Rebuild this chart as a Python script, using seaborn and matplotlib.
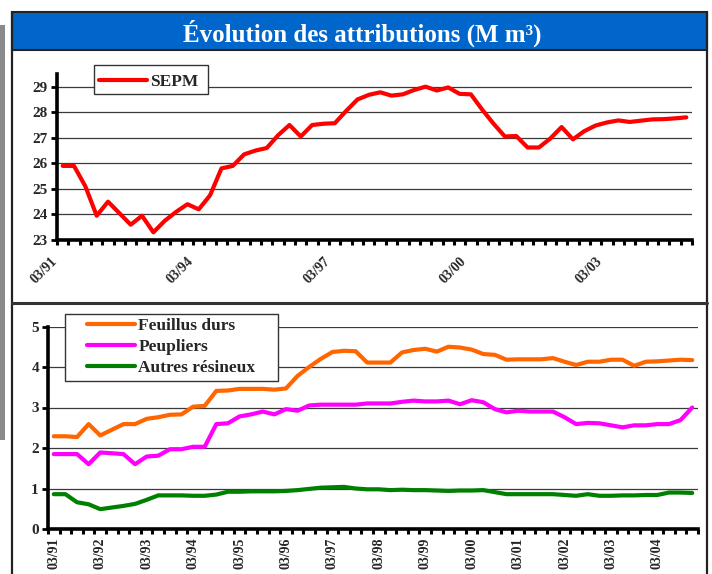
import numpy as np
import pandas as pd
import matplotlib
matplotlib.use("Agg")
import matplotlib.pyplot as plt
from matplotlib.patches import Rectangle
from matplotlib.lines import Line2D
from matplotlib.transforms import ScaledTranslation
import seaborn as sns

# quarterly data, 03/91 .. 12/04 (56 quarters)
sepm = [25.9, 25.9, 25.1, 23.95, 24.5, 24.05, 23.6, 23.95, 23.3, 23.75,
        24.1, 24.4, 24.2, 24.75, 25.8, 25.9, 26.35, 26.5, 26.6, 27.1,
        27.5, 27.05, 27.5, 27.55, 27.57, 28.05, 28.5, 28.68, 28.78, 28.65,
        28.7, 28.87, 29.0, 28.85, 28.97, 28.72, 28.7, 28.1, 27.55, 27.05,
        27.07, 26.62, 26.62, 26.97, 27.42, 26.94, 27.26, 27.48, 27.6, 27.68,
        27.62, 27.67, 27.72, 27.73, 27.76, 27.8]

feuillus = [2.29, 2.29, 2.27, 2.59, 2.31, 2.45, 2.59, 2.59, 2.72, 2.76,
            2.82, 2.83, 3.02, 3.04, 3.41, 3.42, 3.46, 3.46, 3.46, 3.44,
            3.47, 3.78, 4.0, 4.2, 4.37, 4.4, 4.39, 4.11, 4.11, 4.11,
            4.36, 4.42, 4.45, 4.38, 4.5, 4.48, 4.43, 4.32, 4.3, 4.18,
            4.19, 4.19, 4.19, 4.22, 4.13, 4.05, 4.13, 4.13, 4.18, 4.18,
            4.03, 4.13, 4.14, 4.16, 4.18, 4.17]

peupliers = [1.85, 1.85, 1.85, 1.6, 1.89, 1.87, 1.85, 1.6, 1.79, 1.81,
             1.97, 1.97, 2.03, 2.03, 2.59, 2.61, 2.78, 2.83, 2.9, 2.83,
             2.96, 2.92, 3.05, 3.07, 3.07, 3.07, 3.07, 3.1, 3.1, 3.1,
             3.14, 3.17, 3.15, 3.15, 3.17, 3.08, 3.18, 3.13, 2.96, 2.88,
             2.92, 2.9, 2.9, 2.9, 2.76, 2.59, 2.62, 2.61, 2.56, 2.51,
             2.56, 2.56, 2.59, 2.59, 2.69, 3.0]

autres = [0.86, 0.86, 0.66, 0.61, 0.49, 0.53, 0.57, 0.62, 0.72, 0.83,
          0.83, 0.83, 0.82, 0.82, 0.85, 0.92, 0.92, 0.93, 0.93, 0.93,
          0.94, 0.96, 0.99, 1.02, 1.03, 1.04, 1.0, 0.98, 0.98, 0.96,
          0.97, 0.96, 0.96, 0.95, 0.94, 0.95, 0.95, 0.96, 0.91, 0.86,
          0.86, 0.86, 0.86, 0.86, 0.84, 0.82, 0.86, 0.82, 0.82, 0.83,
          0.83, 0.84, 0.84, 0.9, 0.9, 0.89]

top_tick_pos = [0, 12, 24, 36, 48]
top_tick_labels = ["03/91", "03/94", "03/97", "03/00", "03/03"]
bot_tick_pos = [0, 4, 8, 12, 16, 20, 24, 28, 32, 36, 40, 44, 48, 52]
bot_tick_labels = ["03/91", "03/92", "03/93", "03/94", "03/95", "03/96", "03/97",
                   "03/98", "03/99", "03/00", "03/01", "03/02", "03/03", "03/04"]

df = pd.DataFrame({"q": np.arange(len(sepm)), "SEPM": sepm,
                   "Feuillus durs": feuillus, "Peupliers": peupliers,
                   "Autres résineux": autres})

sns.set_theme(style="white")
plt.rcParams["font.family"] = ["Liberation Serif", "DejaVu Serif"]
plt.rcParams["font.weight"] = "bold"

W, H = 712, 574
fig = plt.figure(figsize=(W / 100, H / 100), dpi=100)


def px_axes(x0, y0, x1, y1):
    return fig.add_axes([x0 / W, 1 - y1 / H, (x1 - x0) / W, (y1 - y0) / H])


def px(x, y):
    return (x / W, 1 - y / H)


# frame / decoration
fig.add_artist(Rectangle(px(0, 440), 5 / W, 415 / H, transform=fig.transFigure,
                         color="#8a8a8a", lw=0, zorder=0))
fig.add_artist(Rectangle(px(12, 50), 695 / W, 38 / H, transform=fig.transFigure,
                         facecolor="#0066CC", edgecolor="#222222", lw=1.5, zorder=0))
fig.add_artist(Line2D([12 / W, 12 / W], [0, 1 - 12 / H], transform=fig.transFigure,
                      color="#222222", lw=1.6))
fig.add_artist(Line2D([707 / W, 707 / W], [0, 1 - 12 / H], transform=fig.transFigure,
                      color="#222222", lw=1.6))
fig.add_artist(Line2D([12 / W, 707 / W], [1 - 303 / H, 1 - 303 / H],
                      transform=fig.transFigure, color="#333333", lw=2.2))
fig.text(*px(362, 33), "Évolution des attributions (M m³)",
         color="white", fontsize=18, fontweight="bold", ha="center", va="center")


def style_axes(ax, ylim, yticks):
    ax.set_xlim(-0.5, len(sepm) - 0.5)
    ax.set_ylim(*ylim)
    ax.set_yticks(yticks)
    ax.set_yticklabels([str(v) for v in yticks])
    ax.grid(axis="y", color="#3a3a3a", lw=0.9)
    ax.grid(axis="x", visible=False)
    ax.set_axisbelow(True)
    for s in ["top", "right"]:
        ax.spines[s].set_visible(False)
    for s in ["left", "bottom"]:
        ax.spines[s].set_color("black")
        ax.spines[s].set_linewidth(2.6)
    ax.set_xticks(np.arange(-0.5, len(sepm), 1.0), minor=True)
    ax.tick_params(axis="x", which="minor", direction="out", length=3.5, width=2.2,
                   color="black", bottom=True)
    ax.tick_params(axis="x", which="major", length=0, labelsize=10)
    ax.tick_params(axis="y", which="major", direction="out", length=4.5, width=2,
                   color="black", left=True, labelsize=11, pad=2)
    ax.set_xlabel("")
    ax.set_ylabel("")
    ax.set_facecolor("none")
    for lbl in ax.get_yticklabels():
        lbl.set_fontweight("bold")


# top panel
ax1 = px_axes(57, 73.9, 692, 240)
sns.lineplot(data=df, x="q", y="SEPM", ax=ax1, color="#FF0000", lw=3.0,
             label="SEPM", legend=False)
style_axes(ax1, (23, 29.5), [23, 24, 25, 26, 27, 28, 29])
ax1.set_xticks(top_tick_pos)
ax1.set_xticklabels(top_tick_labels, rotation=45, ha="right", va="center",
                    rotation_mode="anchor", fontweight="bold")
ax1.tick_params(axis="x", which="major", pad=14)
for lbl in ax1.get_xticklabels():
    lbl.set_transform(lbl.get_transform() + ScaledTranslation(-0.07, 0, fig.dpi_scale_trans))

# bottom panel
ax2 = px_axes(48, 326.5, 698, 529)
colors = {"Feuillus durs": "#FF6600", "Peupliers": "#FF00FF", "Autres résineux": "#008000"}
for name, c in colors.items():
    sns.lineplot(data=df, x="q", y=name, ax=ax2, color=c, lw=3.0, label=name, legend=False)
style_axes(ax2, (0, 5), [0, 1, 2, 3, 4, 5])
ax2.set_xticks(bot_tick_pos)
ax2.set_xticklabels(bot_tick_labels, rotation=90, ha="center", va="top",
                    fontweight="bold")
ax2.tick_params(axis="x", which="major", pad=6)

# legends (boxes drawn by hand)
fig.add_artist(Rectangle(px(94, 94), 114 / W, 29 / H, transform=fig.transFigure,
                         facecolor="white", edgecolor="#333333", lw=1.0, zorder=3))
fig.add_artist(Rectangle(px(65, 381), 213 / W, 67 / H, transform=fig.transFigure,
                         facecolor="white", edgecolor="#333333", lw=1.0, zorder=3))

h1 = [Line2D([], [], color="#FF0000", lw=3.0)]
fig.legend(h1, ["SEPM"], loc="upper left", bbox_to_anchor=px(99, 74),
           frameon=False, handlelength=2.75, handletextpad=0.2,
           borderpad=0, borderaxespad=0, prop={"weight": "bold", "size": 12.5})

h2 = [Line2D([], [], color=c, lw=3.0) for c in colors.values()]
fig.legend(h2, list(colors.keys()), loc="upper left", bbox_to_anchor=px(87, 318),
           frameon=False, handlelength=2.75, handletextpad=0.2, labelspacing=0.27,
           borderpad=0, borderaxespad=0, prop={"weight": "bold", "size": 12.5})

fig.savefig("out.png", dpi=100)
